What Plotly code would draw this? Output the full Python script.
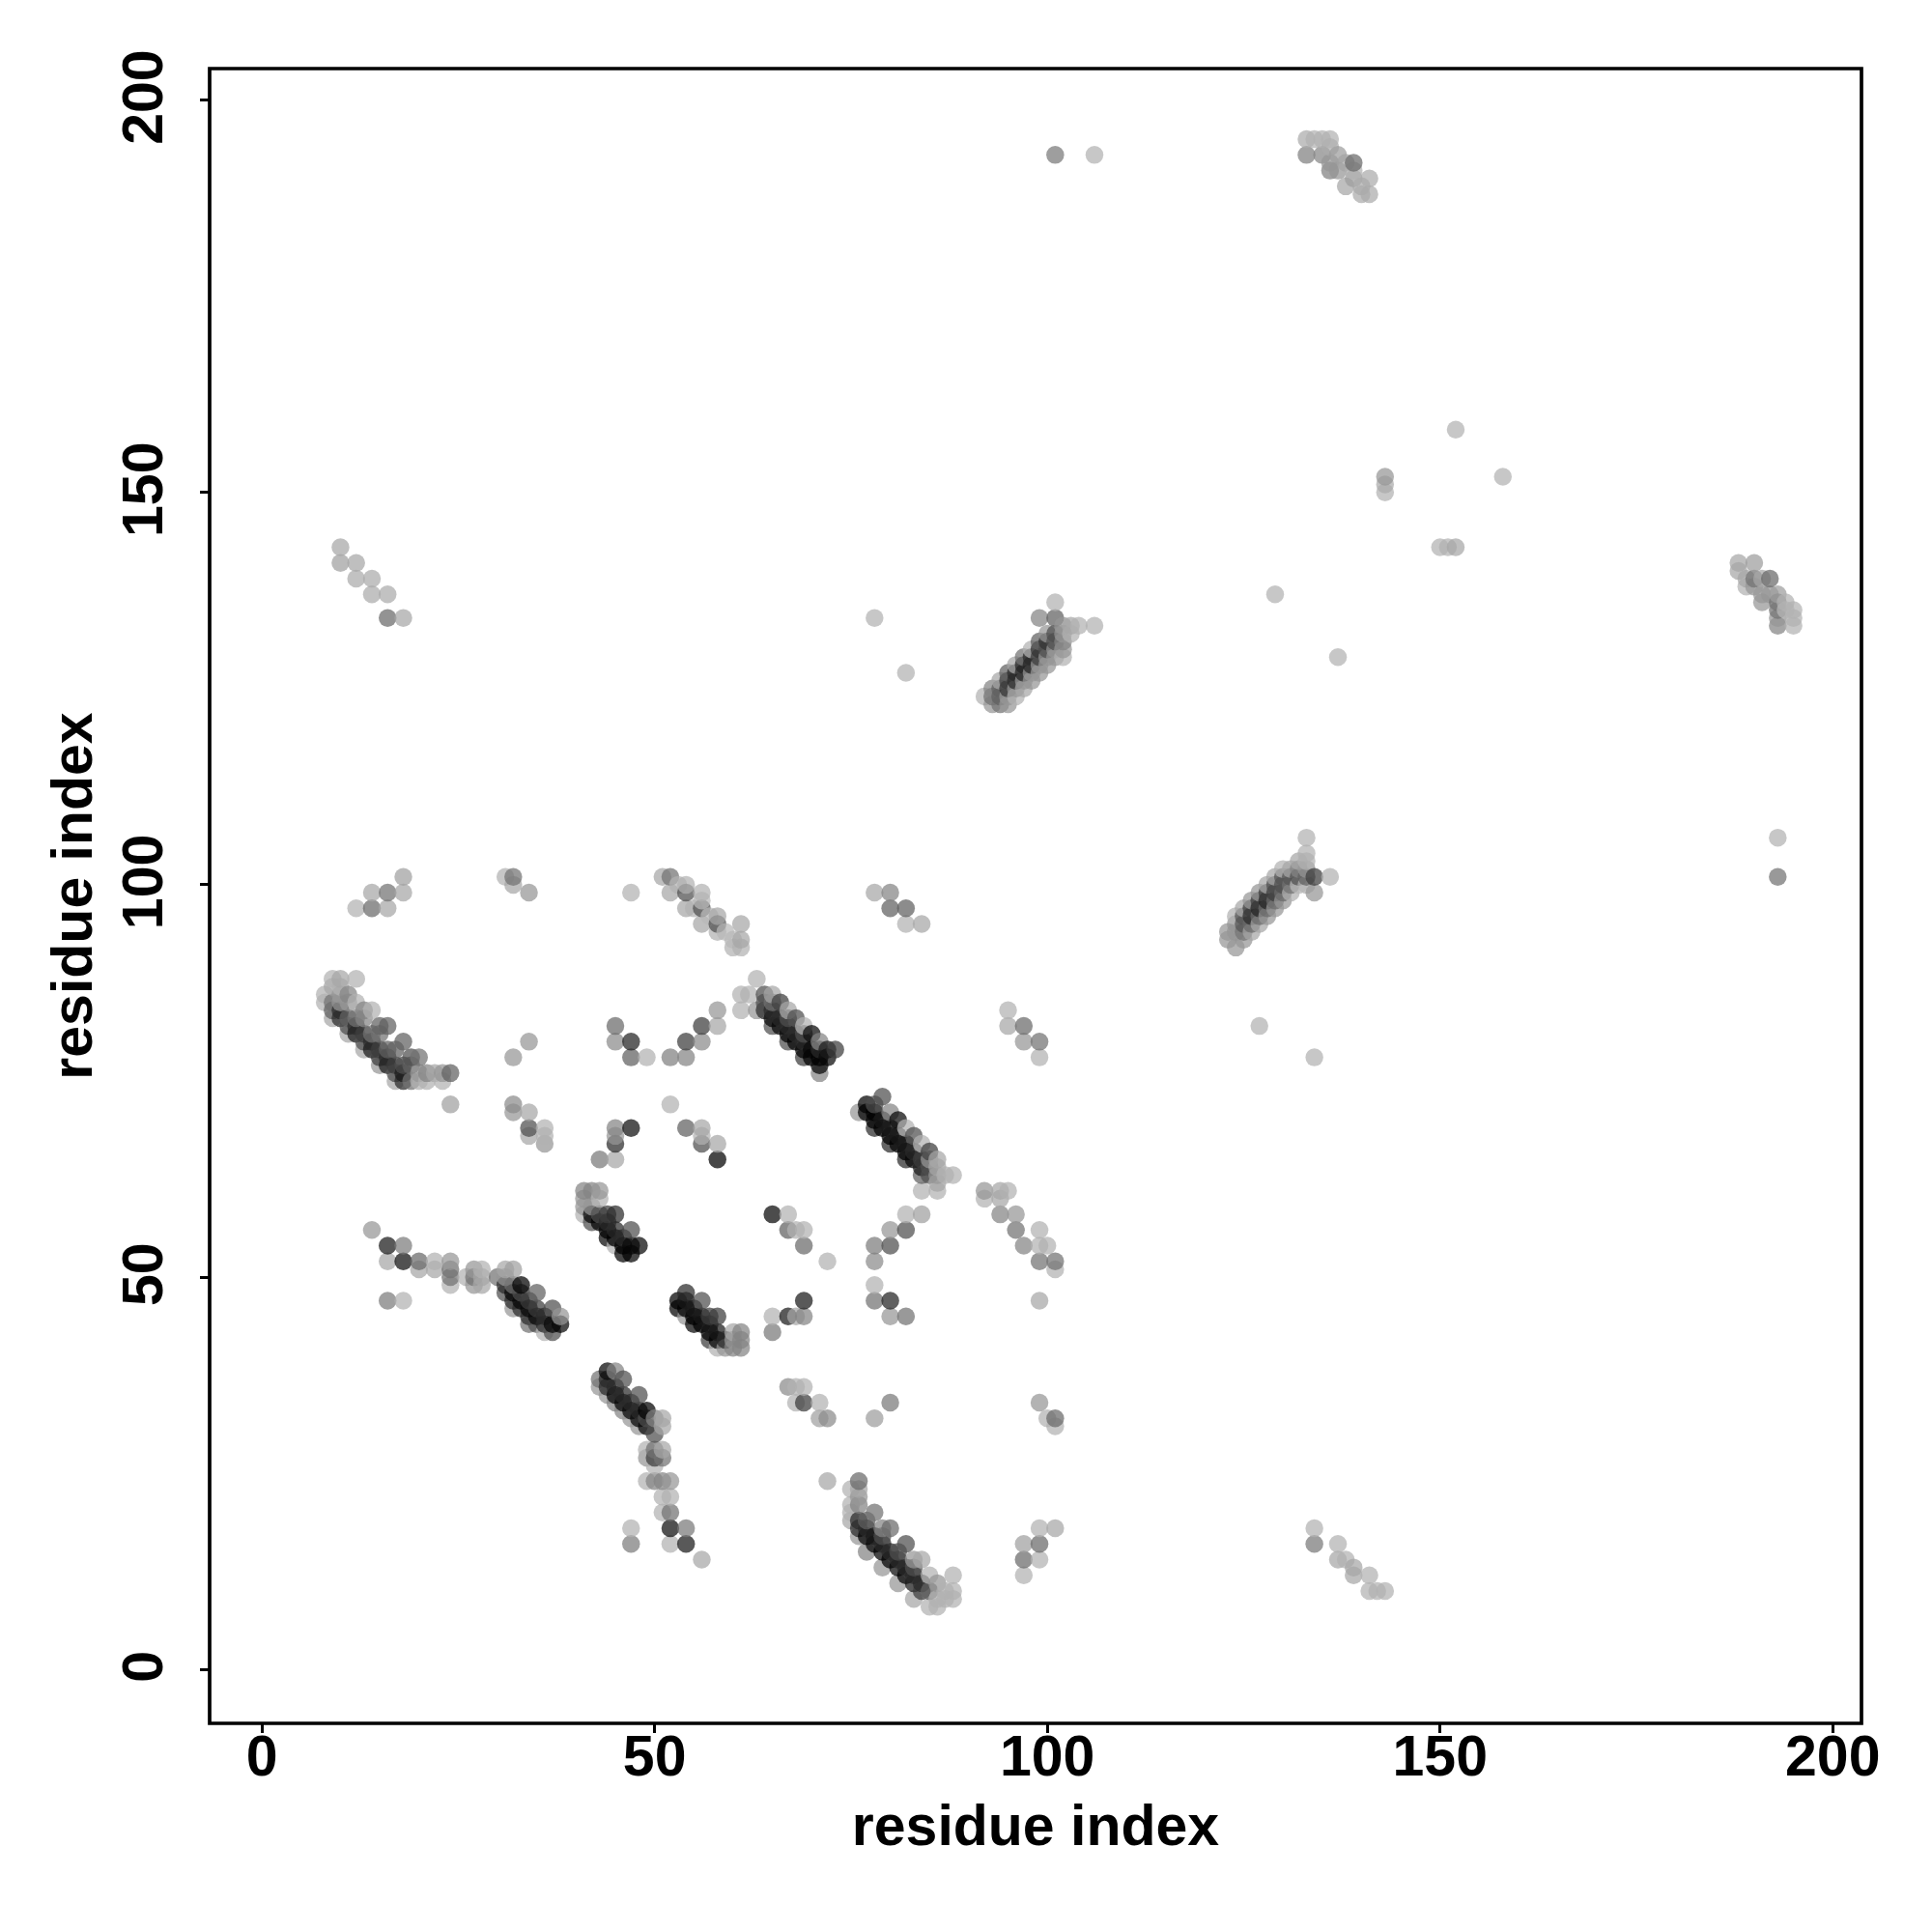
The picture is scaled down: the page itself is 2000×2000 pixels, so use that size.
import plotly.graph_objects as go

tick_values = [0, 50, 100, 150, 200]
axis_label = "residue index"

# Each entry: (residue i, residue j, darkness of the lone dot in percent)
c_top_left = [(10,143,25),(10,141,27),(12,141,25),(12,139,24),(14,139,24),(14,137,24),(16,137,24),(16,134,42),(18,134,25)]
c_top_far = [(101,193,38),(106,193,22)]
c_top_right = [(133,195,24),(134,195,22),(135,195,22),(136,195,22),(133,193,36),(135,193,34),(136,194,24),(137,193,28),
               (136,192,30),(136,191,36),(137,191,30),(138,192,26),(139,192,42),(138,189,25),(139,190,28),(139,191,22),
               (140,189,24),(141,190,24),(140,188,24),(141,188,24)]
c_scatter_right = [(143,152,30),(143,151,24),(143,150,22),(152,158,22),(158,152,22),(150,143,22),(151,143,22),(152,143,25),
                   (129,137,22),(137,129,22),(78,134,22),(82,127,22),(127,82,22),(134,78,22),(193,106,22),(193,101,40)]
c_helix_a = [(101,136,22),(99,134,35),(101,134,45),(106,133,22),(104,133,22),(103,133,25),(102,133,30),(102,132,30),(103,132,22),
             (102,131,35),(102,130,30),(102,129,22),(101,129,30),(92,124,22),(93,123,30),(94,123,40),(96,124,22),(97,125,25),
             (98,126,30),(99,127,30),(100,128,30),(93,125,35),(94,126,25),(95,127,45),(96,128,25),(97,129,40),(98,130,22),
             (99,131,45),(100,132,30),(94,124,45),(95,125,58),(96,126,60),(97,127,62),(98,128,62),(99,129,55),(100,130,50),
             (101,131,50),(93,124,40),(94,125,45),(95,126,55),(96,127,60),(97,128,62),(98,129,60),(99,130,58),(100,131,58),
             (101,132,50),(95,124,30),(96,125,30),(97,126,30),(98,127,30),(99,128,30),(100,129,30),(101,130,30),(95,123,30)]
c_helix_b = [(133,106,22),(133,104,22),(133,103,22),(134,101,55),(136,101,22),(134,99,30),(133,102,30),(132,103,25),(131,102,25),
             (130,102,22),(129,101,25),(128,100,25),(124,92,30),(123,93,30),(123,94,30),(124,96,22),(125,97,25),(126,98,30),
             (127,99,30),(126,94,25),(127,95,25),(128,96,30),(129,97,30),(130,98,30),(131,99,22),(132,100,20),(133,100,22),
             (125,93,30),(124,94,30),(125,95,48),(126,96,60),(127,97,62),(128,98,62),(129,99,55),(130,100,50),(131,101,48),
             (132,102,35),(124,95,30),(125,96,48),(126,97,55),(127,98,55),(128,99,55),(129,100,50),(130,101,48),(125,94,40),
             (126,95,42),(127,96,42),(128,97,42),(129,98,42),(130,99,42),(131,100,40),(132,101,50),(133,101,45)]
c_right_edge = [(188,141,25),(188,140,25),(190,141,28),(189,139,25),(189,138,22),(190,139,40),(191,139,25),(192,139,42),(191,136,30),
                (193,137,28),(194,136,22),(195,135,22),(195,134,22),(195,133,22),(193,133,35),(193,134,30),(192,137,30),(191,137,30),
                (193,136,40),(193,135,40),(190,138,30),(194,135,20)]
c_row_101 = [(18,101,27),(18,99,25),(16,99,40),(14,99,25),(16,97,25),(14,97,42),(12,97,22),(31,101,22),(32,101,40),(32,100,25),(34,99,30),(47,99,22)]
c_strand_52 = [(51,101,25),(52,101,40),(52,99,25),(53,100,22),(54,100,22),(54,99,50),(56,99,22),(54,97,25),(55,97,22),(56,98,20),(56,97,50),
               (56,95,25),(57,96,20),(58,96,25),(58,95,50),(58,94,22),(59,94,20),(61,95,25),(61,93,25),(60,92,22),(61,92,22),(60,93,20)]
c_anti_9 = [(9,83,25),(11,81,25),(13,79,25),(15,77,30),(17,75,25),(9,84,45),(10,83,60),(11,82,50),(12,81,65),(13,80,50),(14,79,65),(15,78,55),
            (16,77,65),(17,76,50),(18,75,60),(9,85,40),(10,84,60),(11,83,45),(12,82,60),(13,81,55),(14,80,60),(15,79,55),(16,78,60),(17,77,55),
            (18,76,65),(19,75,40),(10,85,30),(12,83,40),(14,81,40),(16,79,45),(18,77,50),(11,85,30),(13,83,35),(15,81,40),(17,79,45),(19,77,45),
            (9,87,25),(10,86,30),(9,88,22),(10,88,25),(10,87,22),(12,88,22),(8,86,22),(8,85,22),(11,86,35),(12,85,22),(13,84,35),(14,84,22),(15,82,45),
            (16,82,45),(18,80,45),(19,78,50),(20,78,40),(20,76,30),(21,76,35),(22,76,25),(23,76,30),(24,76,45),(23,75,22),(21,75,22),(20,75,22),(24,72,27)]
c_mid_80 = [(34,80,30),(32,78,30),(45,82,42),(45,80,33),(47,80,62),(47,78,45),(49,78,22),(52,78,36),(54,78,35),(54,80,55),(56,80,33),(56,82,55),
            (58,82,25),(58,84,30),(52,72,22)]
c_mid_70 = [(32,72,33),(32,71,30),(34,71,25),(34,69,50),(34,68,25),(36,69,22),(36,68,22),(36,67,30),(45,69,35),(45,68,30),(45,67,60),(47,69,68),
            (43,65,38),(45,65,25),(54,69,45),(56,69,25),(56,68,22),(56,67,50),(58,67,25),(58,65,72)]
c_anti_64 = [(63,88,22),(61,86,22),(62,86,22),(61,84,22),(63,84,30),(64,86,50),(65,86,25),(66,85,55),(67,84,25),(68,83,50),(69,82,22),(70,81,70),
             (71,80,35),(72,79,65),(73,79,55),(64,84,60),(65,83,70),(66,82,70),(67,81,75),(68,80,75),(69,79,75),(70,78,80),(71,77,70),(64,85,50),(65,84,60),
             (66,83,60),(67,82,60),(68,81,60),(69,80,60),(70,79,70),(71,78,80),(65,85,40),(67,83,50),(69,81,50),(71,79,60),(65,82,50),(67,80,50),(69,78,55),
             (71,76,35),(72,78,70)]
c_anti_77 = [(79,73,50),(77,72,80),(76,71,30),(80,71,35),(81,70,70),(82,69,22),(83,68,50),(84,67,22),(85,66,55),(86,65,25),(88,63,22),(87,63,22),(84,61,22),
             (86,61,22),(86,62,25),(78,69,60),(80,67,60),(82,65,60),(84,63,45),(77,71,80),(78,70,85),(79,69,80),(80,68,80),(81,67,80),(82,66,80),(83,65,70),
             (84,64,65),(85,63,50),(78,71,75),(79,70,65),(80,69,65),(81,68,65),(82,67,65),(83,66,60),(84,65,55),(85,64,50),(78,72,50),(85,65,30),(86,63,30),(86,64,25)]
c_anti_42 = [(41,61,35),(42,61,35),(43,61,30),(41,60,30),(43,60,22),(41,59,30),(41,58,22),(42,59,30),(45,58,60),(44,58,55),(47,56,50),(48,54,70),(42,57,50),
             (44,55,70),(45,54,22),(46,53,85),(47,53,85),(42,58,70),(43,57,80),(44,56,80),(45,55,80),(46,54,80),(43,58,50),(44,57,60),(45,56,60),(46,55,60),(47,54,70)]
c_anti_54 = [(54,48,60),(56,47,50),(53,47,85),(53,46,85),(58,45,55),(57,45,55),(60,43,25),(61,43,35),(55,44,70),(54,45,30),(57,42,55),(58,41,22),(59,41,30),
             (60,41,35),(61,41,35),(61,42,35),(54,46,85),(55,45,85),(56,44,85),(57,43,80),(58,42,75),(54,47,65),(55,46,65),(56,45,65),(57,44,65),(58,43,65),(59,42,60),
             (60,42,30)]
c_strand_16 = [(14,56,30),(16,54,65),(18,54,37),(16,52,25),(18,52,68),(20,52,42),(20,51,25),(22,52,22),(22,51,25),(24,52,30),(24,51,40),(24,50,40),(24,49,22),
               (26,50,22),(27,51,30),(27,50,40),(27,49,30),(28,51,22),(28,50,25),(28,49,25),(16,47,37),(18,47,22),(30,50,40),(31,51,25),(32,51,27)]
c_anti_33 = [(33,49,75),(35,48,45),(37,46,50),(38,45,30),(38,44,70),(37,43,50),(36,43,22),(31,49,60),(32,48,70),(33,47,70),(34,46,70),(35,45,70),(36,44,60),(31,48,50),
             (32,47,60),(33,46,60),(34,45,60),(35,44,50),(31,50,30),(32,49,40),(33,48,50),(34,47,55),(35,46,55),(36,45,60),(37,44,70),(32,46,30),(34,44,40)]
c_anti_44 = [(44,38,70),(45,38,35),(46,37,50),(43,37,40),(43,36,30),(48,35,50),(49,33,75),(50,32,35),(51,32,25),(51,31,25),(44,36,60),(45,35,70),(46,34,70),(47,33,70),
             (48,32,70),(49,31,70),(44,37,60),(45,36,60),(46,35,60),(47,34,60),(48,33,60),(49,32,50),(44,35,30),(45,34,35),(46,33,35),(47,32,30),(48,31,30),(50,30,50),
             (49,28,22),(50,28,40),(51,28,25),(49,27,30),(50,27,55),(51,27,40),(50,26,22),(49,24,22),(50,24,35),(51,24,35),(52,24,30),(51,22,22),(52,22,22),(51,20,22),
             (52,20,40),(52,18,68),(54,18,38),(47,18,22),(47,16,37),(52,16,22),(54,16,65),(56,14,25)]
c_anti_76 = [(76,24,42),(75,23,22),(76,23,25),(75,21,22),(76,22,30),(76,21,35),(75,20,22),(75,19,25),(78,20,40),(79,18,35),(80,18,42),(82,16,50),(84,14,25),(83,14,30),
             (85,12,22),(88,12,22),(86,11,30),(87,10,22),(88,10,22),(88,9,22),(86,9,22),(85,8,22),(86,8,22),(87,9,22),(83,9,25),(81,11,30),(79,13,30),(77,15,35),(76,17,30),
             (76,18,60),(77,17,75),(78,16,70),(79,15,75),(80,14,75),(81,13,70),(82,12,75),(83,11,65),(84,10,55),(76,19,60),(77,18,60),(78,17,65),(79,16,60),(80,15,60),
             (81,14,60),(82,13,60),(83,12,60),(84,11,60),(85,10,45),(77,19,45),(79,17,50),(81,15,50),(83,13,50),(72,24,25)]
c_low_mid = [(67,36,33),(68,36,22),(69,36,22),(68,34,22),(69,34,55),(71,34,22),(71,32,27),(72,32,33),(80,34,38),(78,32,28),(99,34,30),(100,32,22),(101,32,42),(101,31,22),
             (99,18,22),(101,18,25),(97,16,27),(99,16,42),(97,14,42),(99,14,22),(97,12,22)]
c_mid_47 = [(65,45,22),(65,43,38),(67,45,65),(68,45,25),(69,45,35),(69,47,65),(78,49,22),(78,47,40),(80,47,62),(80,45,30),(82,45,40),(78,54,37),(80,54,50),(78,52,33),
            (80,56,30),(82,56,50),(82,58,22),(84,58,27),(65,58,70),(67,58,22),(67,56,45),(68,56,22),(69,56,22),(69,54,42),(72,52,22)]
c_strand_94 = [(92,61,30),(94,61,25),(95,61,22),(92,60,22),(94,60,25),(94,58,35),(96,58,30),(96,56,40),(99,56,22),(97,54,35),(99,54,22),(100,54,22),(99,52,40),(101,52,40),
               (101,51,22),(99,47,25),(95,84,22),(95,82,25),(97,82,42),(97,80,30),(99,80,40),(99,78,22),(78,99,25),(80,99,35),(80,97,45),(82,97,45),(82,95,22),(84,95,25)]
c_low_right = [(134,18,22),(134,16,38),(137,16,22),(137,14,25),(138,14,22),(139,13,25),(139,12,25),(141,12,22),(141,10,22),(142,10,22),(143,10,22)]

clusters = [c_top_left, c_top_far, c_top_right, c_scatter_right, c_helix_a, c_helix_b, c_right_edge, c_row_101,
            c_strand_52, c_anti_9, c_mid_80, c_mid_70, c_anti_64, c_anti_77, c_anti_42, c_anti_54, c_strand_16,
            c_anti_33, c_anti_44, c_anti_76, c_low_mid, c_mid_47, c_strand_94, c_low_right]

W, H = 2000, 2000
L, R, T, B = 216.5, 1927.5, 71.0, 1783.7
XR = [-6.66, 203.66]
YR = [-6.86, 204.0]
FONT = "Liberation Sans, Arial, Helvetica, sans-serif"
DOT_ALPHA = 0.72

points = sorted(p for c in clusters for p in c)


def dot_colour(darkness):
    shade = 255 * (1 - darkness / 100)
    grey = max(0, round((shade - 255 * (1 - DOT_ALPHA)) / DOT_ALPHA))
    return f"rgba({grey},{grey},{grey},{DOT_ALPHA})"


fig = go.Figure()
fig.add_trace(go.Scatter(
    x=[p[0] for p in points], y=[p[1] for p in points], mode="markers",
    marker=dict(size=18.5, color=[dot_colour(p[2]) for p in points], line=dict(width=0)),
    showlegend=False, hoverinfo="skip"))

axis_common = dict(
    tickmode="array", tickvals=tick_values,
    ticks="outside", ticklen=9, tickwidth=3, tickcolor="black",
    tickfont=dict(family=FONT, size=59, color="black", weight="bold"),
    showgrid=False, zeroline=False, showline=False,
    title=dict(text=axis_label, font=dict(family=FONT, size=59, color="black", weight="bold")),
)
fig.update_xaxes(range=XR, ticklabelstandoff=-27, ticktext=[str(v) for v in tick_values], **axis_common)
# A thin trailing space centres the rotated labels on their ticks.
fig.update_yaxes(range=YR, tickangle=-90, ticklabelstandoff=15,
                 ticktext=[str(v) + "\u2009" for v in tick_values], **axis_common)
fig.layout.xaxis.title.standoff = 18
fig.layout.yaxis.title.standoff = 0

fig.update_layout(
    width=W, height=H, autosize=False, paper_bgcolor="white", plot_bgcolor="white",
    margin=dict(l=L, r=W - R, t=T, b=H - B, pad=0, autoexpand=False),
    shapes=[dict(type="rect", xref="paper", yref="paper", x0=0, x1=1, y0=0, y1=1,
                 line=dict(color="black", width=3.7), fillcolor="rgba(0,0,0,0)", layer="above")],
)
fig.write_html("out.html", config={"displayModeBar": False}, post_script="document.body.style.margin='0';")
